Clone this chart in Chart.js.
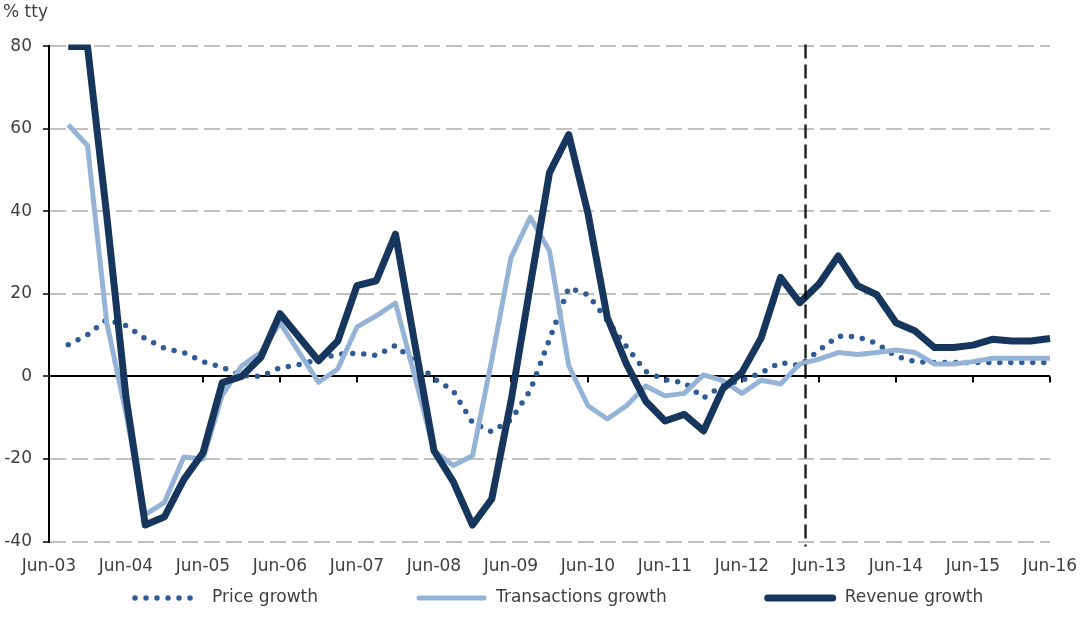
<!DOCTYPE html>
<html>
<head>
<meta charset="utf-8">
<title>Price, transactions and revenue growth</title>
<script src="https://cdn.jsdelivr.net/npm/chart.js@4.4.1/dist/chart.umd.min.js"></script>
<style>
  html, body { margin: 0; padding: 0; background: #fff; }
  canvas { display: block; }
</style>
</head>
<body>
<canvas id="growthChart" width="1081" height="641"></canvas>
<script>
// Quarterly growth, % on the same quarter a year earlier
const quarters = [
  'Jun-03', 'Sep-03', 'Dec-03', 'Mar-04', 'Jun-04', 'Sep-04', 'Dec-04', 'Mar-05',
  'Jun-05', 'Sep-05', 'Dec-05', 'Mar-06', 'Jun-06', 'Sep-06', 'Dec-06', 'Mar-07',
  'Jun-07', 'Sep-07', 'Dec-07', 'Mar-08', 'Jun-08', 'Sep-08', 'Dec-08', 'Mar-09',
  'Jun-09', 'Sep-09', 'Dec-09', 'Mar-10', 'Jun-10', 'Sep-10', 'Dec-10', 'Mar-11',
  'Jun-11', 'Sep-11', 'Dec-11', 'Mar-12', 'Jun-12', 'Sep-12', 'Dec-12', 'Mar-13',
  'Jun-13', 'Sep-13', 'Dec-13', 'Mar-14', 'Jun-14', 'Sep-14', 'Dec-14', 'Mar-15',
  'Jun-15', 'Sep-15', 'Dec-15', 'Mar-16', 'Jun-16'
];

const priceGrowth = [
  null, 7.7, 10.1, 13.8, 12.3, 9.2, 6.8, 5.8, 3.6, 2.2, 0.2, 0, 2.1, 2.9, 4.1, 5.4,
  5.6, 5.1, 7.5, 3.5, -0.5, -3.5, -11.2, -13.4, -10.5, -3.4, 9, 21.5, 19.8, 13.6, 7.2, 1.2,
  -0.8, -1.5, -5.2, -2.2, -0.9, 0.9, 3.4, 2.6, 6.3, 9.8, 9.6, 8, 4.9, 3.6, 3.4, 3.4,
  3.4, 3.4, 3.4, 3.4, 3.4
];

const transactionsGrowth = [
  null, 61, 56, 13, -9, -33.5, -30.5, -19.5, -20, -4.5, 2.5, 5.8, 13, 5.8, -1.4, 1.8,
  12, 14.7, 17.8, 0, -18, -21.6, -19.2, 4, 28.8, 38.6, 30.4, 2.6, -7.1, -10.3, -7.1, -2.3,
  -4.7, -4.1, 0.4, -1, -4.1, -0.9, -1.8, 3, 4.2, 5.8, 5.3, 5.8, 6.4, 5.8, 3, 3,
  3.6, 4.4, 4.4, 4.4, 4.4
];

const revenueGrowth = [
  null, 80, 80, 39, -5, -36, -34, -25, -18.5, -1.5, 0, 4.6, 15.2, 9.5, 3.8, 8.6,
  22, 23.2, 34.5, 8, -18, -25.5, -36, -29.7, -6, 22, 49.4, 58.6, 39.5, 14.3, 3, -6,
  -10.8, -9.2, -13.2, -3, 1, 9.4, 24, 17.9, 22.4, 29.2, 22, 19.8, 13, 11, 7, 7,
  7.6, 9, 8.6, 8.6, 9.2
];

const yTicks = [-40, -20, 0, 20, 40, 60, 80];
const seriesNames = ['Price growth', 'Transactions growth', 'Revenue growth'];

// forecast period begins here, measured in quarters along the x axis
const forecastStart = 39.3;

const textColor = '#404040';
const fontFamily = "'DejaVu Sans', sans-serif";

Chart.defaults.font.family = fontFamily;
Chart.defaults.font.size = 17;
Chart.defaults.color = textColor;

// small tick marks on the zero line, one per year
const yearTicks = {
  id: 'yearTicks',
  beforeDatasetsDraw(chart) {
    const { ctx, scales: { x, y } } = chart;
    const y0 = y.getPixelForValue(0);
    ctx.save();
    ctx.strokeStyle = '#000';
    ctx.lineWidth = 2;
    quarters.forEach((q, i) => {
      if (i === 0 || i % 4 !== 0) return;
      const px = Math.round(x.getPixelForValue(i));
      ctx.beginPath();
      ctx.moveTo(px, y0);
      ctx.lineTo(px, y0 + 6);
      ctx.stroke();
    });
    ctx.restore();
  }
};

// dashed vertical line where the forecast starts
const forecastMarker = {
  id: 'forecastMarker',
  afterDatasetsDraw(chart) {
    const { ctx, chartArea, scales: { x } } = chart;
    const px = x.getPixelForValue(forecastStart);
    ctx.save();
    ctx.strokeStyle = 'rgba(0, 0, 0, 0.85)';
    ctx.lineWidth = 2.5;
    ctx.setLineDash([14, 6]);
    ctx.beginPath();
    ctx.moveTo(px, chartArea.top - 2);
    ctx.lineTo(px, chartArea.bottom + 5);
    ctx.stroke();
    ctx.restore();
  }
};

// legend row under the x axis, drawn from each dataset's own line style
const legendRow = {
  id: 'legendRow',
  afterDraw(chart, args, opts) {
    const { ctx } = chart;
    let x = opts.x;
    ctx.save();
    ctx.font = opts.fontSize + 'px ' + fontFamily;
    ctx.textBaseline = 'middle';
    ctx.textAlign = 'left';
    chart.data.datasets.forEach(ds => {
      ctx.beginPath();
      ctx.strokeStyle = ds.borderColor;
      ctx.lineWidth = ds.borderWidth;
      ctx.lineCap = 'round';
      ctx.setLineDash(ds.borderDash || []);
      ctx.moveTo(x, opts.y);
      ctx.lineTo(x + opts.swatch, opts.y);
      ctx.stroke();
      x += opts.swatch + opts.textGap;
      ctx.fillStyle = textColor;
      ctx.fillText(ds.label, x, opts.y);
      x += ctx.measureText(ds.label).width + opts.itemGap;
    });
    ctx.restore();
  }
};

const ctx = document.getElementById('growthChart').getContext('2d');
new Chart(ctx, {
  type: 'line',
  data: {
    labels: quarters,
    datasets: [
      {
        label: seriesNames[0],
        data: priceGrowth,
        borderColor: '#2f5b96',
        borderWidth: 5.5,
        borderDash: [0, 11],
        borderCapStyle: 'round',
        borderJoinStyle: 'round',
        order: 3
      },
      {
        label: seriesNames[1],
        data: transactionsGrowth,
        borderColor: '#95b3d7',
        borderWidth: 5,
        borderJoinStyle: 'round',
        order: 2
      },
      {
        label: seriesNames[2],
        data: revenueGrowth,
        borderColor: '#17365d',
        borderWidth: 7,
        borderJoinStyle: 'round',
        clip: { left: 10, top: 2, right: 10, bottom: 10 },
        order: 1
      }
    ]
  },
  options: {
    responsive: false,
    devicePixelRatio: 1,
    animation: false,
    layout: { padding: { left: 3, right: 31, top: 0, bottom: 62 } },
    elements: {
      point: { radius: 0, hoverRadius: 0 },
      line: { tension: 0 }
    },
    scales: {
      x: {
        grid: { display: false, drawTicks: false },
        border: { display: false },
        ticks: {
          autoSkip: false,
          maxRotation: 0,
          minRotation: 0,
          padding: 15,
          callback: (value, i) => (i % 4 === 0 ? quarters[i] : '')
        },
        afterFit: scale => {
          scale.height = 37.5;
          // end labels may hang past the plot edges
          scale.paddingLeft = 0;
          scale.paddingRight = 0;
        }
      },
      y: {
        min: -40,
        max: 80,
        afterBuildTicks: scale => { scale.ticks = yTicks.map(v => ({ value: v })); },
        afterFit: scale => { scale.width = 46; },
        ticks: { padding: 11 },
        grid: {
          color: c => (c.tick && c.tick.value === 0 ? '#000' : '#c0c0c0'),
          lineWidth: 2,
          tickLength: 6,
          tickColor: '#000',
          tickWidth: 1.5,
          tickBorderDash: []
        },
        border: {
          display: true,
          color: '#000',
          width: 2,
          dash: c => (c.tick && c.tick.value !== 0 ? [16, 6] : [])
        }
      }
    },
    plugins: {
      legend: { display: false },
      tooltip: { enabled: false },
      title: {
        display: true,
        text: '% tty',
        align: 'start',
        color: textColor,
        font: { size: 17, weight: 'normal' },
        padding: { top: 2, bottom: 24 }
      },
      legendRow: { x: 135, y: 598, swatch: 65, textGap: 12, itemGap: 101, fontSize: 17 }
    }
  },
  plugins: [yearTicks, forecastMarker, legendRow]
});
</script>
</body>
</html>
